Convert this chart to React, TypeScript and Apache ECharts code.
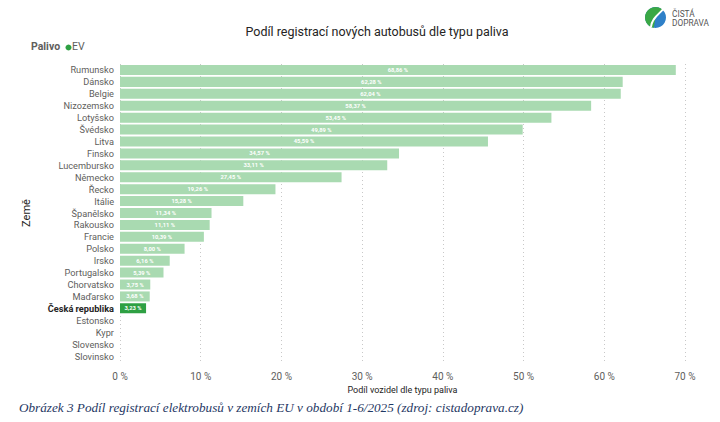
import React, { useEffect, useRef } from "react";
import * as echarts from "echarts";

const countries = [
  "Rumunsko", "Dánsko", "Belgie", "Nizozemsko", "Lotyšsko", "Švédsko", "Litva",
  "Finsko", "Lucembursko", "Německo", "Řecko", "Itálie", "Španělsko", "Rakousko",
  "Francie", "Polsko", "Irsko", "Portugalsko", "Chorvatsko", "Maďarsko",
  "Česká republika", "Estonsko", "Kypr", "Slovensko", "Slovinsko",
];
const evShare = [
  68.86, 62.28, 62.04, 58.37, 53.45, 49.89, 45.59, 34.57, 33.11, 27.45, 19.26,
  15.28, 11.34, 11.11, 10.39, 8.0, 6.16, 5.39, 3.75, 3.68, 3.23, 0, 0, 0, 0,
];
const highlight = "Česká republika";
const xTicks = [0, 10, 20, 30, 40, 50, 60, 70];

const FONT = "Roboto, 'Noto Sans', sans-serif";

export default function App() {
  const ref = useRef<HTMLDivElement>(null);
  useEffect(() => {
    document.body.style.margin = "0";
    const chart = echarts.init(ref.current!, null, { renderer: "svg" });
    chart.setOption({
      animation: false,
      textStyle: { fontFamily: FONT },
      title: {
        text: "Podíl registrací nových autobusů dle typu paliva",
        left: 372,
        top: 20,
        textAlign: "center",
        textStyle: { fontSize: 12.5, fontWeight: "normal", color: "#252423", fontFamily: FONT },
      },
      grid: { left: 120, right: 35, top: 64, bottom: 60 },
      xAxis: {
        type: "value",
        min: 0,
        max: xTicks[xTicks.length - 1],
        interval: 10,
        name: "Podíl vozidel dle typu paliva",
        nameLocation: "middle",
        nameGap: 23,
        nameTextStyle: { fontSize: 9, color: "#252423" },
        axisLine: { show: false },
        axisTick: { show: false },
        axisLabel: { formatter: "{value} %", fontSize: 10, color: "#605e5c", margin: 9 },
        splitLine: { lineStyle: { type: [1, 3], color: "#c8c8c8" } },
      },
      yAxis: {
        type: "category",
        data: countries,
        inverse: true,
        name: "Země",
        nameLocation: "middle",
        nameRotate: 90,
        nameGap: 88,
        nameTextStyle: { fontSize: 11, color: "#252423" },
        axisLine: { show: false },
        axisTick: { show: false },
        axisLabel: {
          interval: 0,
          fontSize: 9.2,
          color: "#605e5c",
          margin: 6,
          formatter: (v: string) => (v === highlight ? `{b|${v}}` : v),
          rich: { b: { fontWeight: "bold", color: "#252423", fontSize: 9.2 } },
        },
      },
      series: [
        {
          name: "EV",
          type: "bar",
          barCategoryGap: "16%",
          data: evShare.map((v, i) => ({
            value: v,
            itemStyle: { color: countries[i] === highlight ? "#2ea043" : "#a9dab1" },
          })),
          label: {
            show: true,
            position: "inside",
            fontSize: 5.8,
            fontWeight: "bold",
            color: "#ffffff",
            formatter: (p: any) => (p.value > 0 ? p.value.toFixed(2).replace(".", ",") + " %" : ""),
          },
        },
      ],
      graphic: [
        {
          type: "text",
          left: 31,
          top: 41,
          style: { text: "Palivo", fontSize: 10.5, fontWeight: "bold", fill: "#605e5c", fontFamily: FONT },
        },
        { type: "circle", shape: { cx: 68.5, cy: 47.5, r: 3 }, style: { fill: "#2ea043" } },
        {
          type: "text",
          left: 72,
          top: 41,
          style: { text: "EV", fontSize: 10.5, fill: "#605e5c", fontFamily: FONT },
        },
        {
          type: "text",
          left: 19,
          top: 401,
          style: {
            text: "Obrázek 3 Podíl registrací elektrobusů v zemích EU v období 1-6/2025 (zdroj: cistadoprava.cz)",
            fontSize: 13.2,
            fontStyle: "italic",
            fill: "#1f3864",
            fontFamily: "'Liberation Serif', 'DejaVu Serif', serif",
          },
        },
        { type: "circle", shape: { cx: 655.5, cy: 17.5, r: 10.5 }, style: { fill: "#2f80c8" } },
        {
          type: "sector",
          shape: { cx: 655.5, cy: 17.5, r: 10.5, startAngle: Math.PI * 0.55, endAngle: Math.PI * 1.75 },
          style: { fill: "#3aa845" },
        },
        {
          type: "bezierCurve",
          shape: { x1: 651, y1: 27, x2: 664, y2: 8, cpx1: 652, cpy1: 17, cpx2: 660, cpy2: 14 },
          style: { stroke: "#ffffff", lineWidth: 2, fill: "none" },
        },
        {
          type: "text",
          left: 672,
          top: 9,
          style: { text: "ČISTÁ\nDOPRAVA", fontSize: 8.3, lineHeight: 9.5, fill: "#555555", fontFamily: FONT },
        },
      ],
    });
    return () => chart.dispose();
  }, []);
  return <div ref={ref} style={{ width: 720, height: 422 }} />;
}
